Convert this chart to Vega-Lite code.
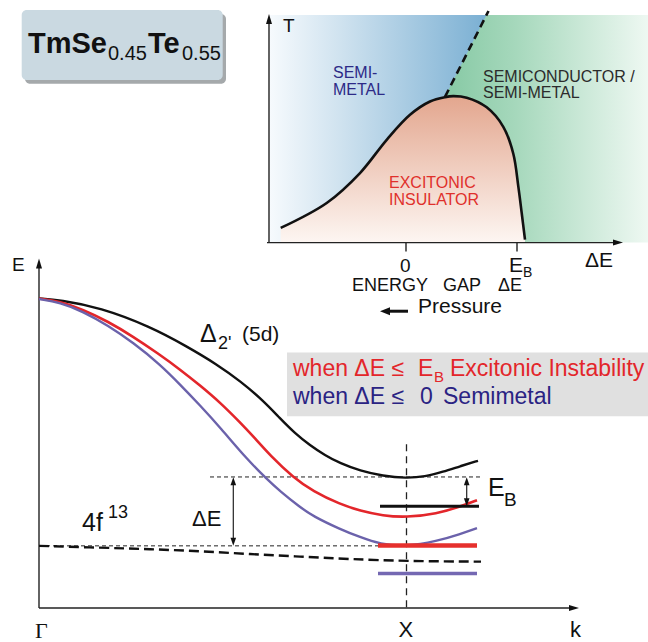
{
  "$schema": "https://vega.github.io/schema/vega-lite/v6.json",
  "width": 648,
  "height": 642,
  "autosize": {"type": "fit", "contains": "padding"},
  "padding": 0,
  "background": "white",
  "config": {"view": {"stroke": null}},
  "datasets": {
    "shadow": [{"x": 25, "x2": 226, "y": 14, "y2": 84}],
    "titleBox": [{"x": 21.7, "x2": 222.7, "y": 10, "y2": 80}],
    "blueRect": [{"x": 270, "x2": 490, "y": 15, "y2": 243}],
    "green": [
      {"y": 15, "x": 486.5, "x2": 648},
      {"y": 97, "x": 445, "x2": 648},
      {"y": 98, "x": 462, "x2": 648},
      {"y": 106.7, "x": 483, "x2": 648},
      {"y": 126.7, "x": 500, "x2": 648},
      {"y": 153.3, "x": 510, "x2": 648},
      {"y": 186.7, "x": 515.5, "x2": 648},
      {"y": 213.3, "x": 519, "x2": 648},
      {"y": 243, "x": 522.5, "x2": 648}
    ],
    "dome": [
      {"x": 280.7, "y": 228.3, "y2": 243},
      {"x": 326.7, "y": 203.3, "y2": 243},
      {"x": 360, "y": 173.3, "y2": 243},
      {"x": 386.7, "y": 140, "y2": 243},
      {"x": 410, "y": 115, "y2": 243},
      {"x": 430, "y": 101.7, "y2": 243},
      {"x": 445, "y": 97.3, "y2": 243},
      {"x": 453.3, "y": 96.3, "y2": 243},
      {"x": 466.7, "y": 97.8, "y2": 243},
      {"x": 486.7, "y": 107.5, "y2": 243},
      {"x": 503.3, "y": 127, "y2": 243},
      {"x": 513.3, "y": 154, "y2": 243},
      {"x": 518.3, "y": 186.7, "y2": 243},
      {"x": 521.7, "y": 213.3, "y2": 243},
      {"x": 525, "y": 240, "y2": 243}
    ],
    "dashBoundary": [{"x": 445, "y": 97}, {"x": 488.5, "y": 11}],
    "axes": [
      {"x": 269, "y": 19, "x2": 269, "y2": 243},
      {"x": 267, "y": 243, "x2": 618, "y2": 243},
      {"x": 406, "y": 243, "x2": 406, "y2": 252},
      {"x": 517, "y": 243, "x2": 517, "y2": 252},
      {"x": 39, "y": 264, "x2": 39, "y2": 609},
      {"x": 39, "y": 609, "x2": 574, "y2": 609}
    ],
    "pressureShaft": [{"x": 386, "y": 311.7, "x2": 408, "y2": 311.7}],
    "dotted": [
      {"x": 210, "y": 477.7, "x2": 482, "y2": 477.7},
      {"x": 39, "y": 546.7, "x2": 400, "y2": 546.7}
    ],
    "xDashed": [{"x": 406.5, "y": 445, "x2": 406.5, "y2": 609}],
    "shafts": [
      {"x": 233.3, "y": 484, "x2": 233.3, "y2": 541},
      {"x": 466.7, "y": 484, "x2": 466.7, "y2": 501}
    ],
    "grayBox": [{"x": 287, "x2": 648, "y": 353, "y2": 417}],
    "black5d": [
      {"x": 39, "y": 299}, {"x": 60, "y": 300.5}, {"x": 100, "y": 308}, {"x": 150, "y": 327},
      {"x": 187, "y": 347}, {"x": 217, "y": 365}, {"x": 240, "y": 381.5}, {"x": 263, "y": 401},
      {"x": 280, "y": 419}, {"x": 295, "y": 434}, {"x": 310, "y": 446}, {"x": 325, "y": 456},
      {"x": 340, "y": 464}, {"x": 360, "y": 471.5}, {"x": 383, "y": 476.8}, {"x": 406, "y": 479},
      {"x": 425, "y": 477.5}, {"x": 443, "y": 472.5}, {"x": 460, "y": 467}, {"x": 478, "y": 461.5}
    ],
    "red5d": [
      {"x": 39, "y": 299}, {"x": 60, "y": 302}, {"x": 83, "y": 310}, {"x": 108, "y": 322},
      {"x": 133, "y": 337}, {"x": 158, "y": 354}, {"x": 180, "y": 370}, {"x": 200, "y": 386},
      {"x": 220, "y": 403}, {"x": 240, "y": 423}, {"x": 255, "y": 439}, {"x": 270, "y": 456},
      {"x": 293, "y": 478}, {"x": 313, "y": 492}, {"x": 340, "y": 505}, {"x": 360, "y": 511.5},
      {"x": 383, "y": 516.5}, {"x": 406, "y": 518.3}, {"x": 437, "y": 514.5}, {"x": 460, "y": 507.5},
      {"x": 477, "y": 501}
    ],
    "blue5d": [
      {"x": 39, "y": 299.5}, {"x": 60, "y": 303}, {"x": 83, "y": 312}, {"x": 108, "y": 326},
      {"x": 133, "y": 343}, {"x": 160, "y": 365}, {"x": 180, "y": 385}, {"x": 200, "y": 406},
      {"x": 220, "y": 428}, {"x": 247, "y": 460}, {"x": 267, "y": 480}, {"x": 280, "y": 492},
      {"x": 300, "y": 508}, {"x": 313, "y": 517}, {"x": 340, "y": 530}, {"x": 360, "y": 538},
      {"x": 380, "y": 545}, {"x": 406, "y": 547.5}, {"x": 437, "y": 542}, {"x": 460, "y": 535},
      {"x": 477, "y": 529}
    ],
    "f4": [
      {"x": 39, "y": 546.7}, {"x": 100, "y": 548.5}, {"x": 150, "y": 550}, {"x": 200, "y": 552},
      {"x": 250, "y": 555}, {"x": 300, "y": 557.5}, {"x": 350, "y": 560}, {"x": 406, "y": 562},
      {"x": 481, "y": 562.5}
    ],
    "barBlack": [{"x": 380, "y": 507, "x2": 479, "y2": 507}],
    "barRed": [{"x": 378, "y": 546.3, "x2": 477, "y2": 546.3}],
    "barPurple": [{"x": 378, "y": 574.3, "x2": 477, "y2": 574.3}],
    "bigUp": [{"x": 269, "y": 19}, {"x": 39, "y": 264}],
    "bigRight": [{"x": 618, "y": 243}, {"x": 574, "y": 609}],
    "smallUp": [{"x": 233.3, "y": 482}, {"x": 466.7, "y": 482}],
    "smallDown": [{"x": 233.3, "y": 542.7}, {"x": 466.7, "y": 503}],
    "pressureHead": [{"x": 385, "y": 311.7}],
    "titleBig": [{"x": 28, "y": 53, "t": "TmSe"}, {"x": 148, "y": 53, "t": "Te"}],
    "titleSub": [{"x": 108, "y": 60, "t": "0.45"}, {"x": 182, "y": 60, "t": "0.55"}],
    "axisText": [
      {"x": 283, "y": 32, "t": "T"},
      {"x": 400, "y": 272, "t": "0"},
      {"x": 12, "y": 271, "t": "E"}
    ],
    "axisLine2": [
      {"x": 352, "y": 291, "t": "ENERGY"},
      {"x": 443, "y": 291, "t": "GAP"},
      {"x": 498, "y": 291, "t": "ΔE"}
    ],
    "axisText20": [
      {"x": 509, "y": 272, "t": "E"},
      {"x": 585, "y": 267, "t": "ΔE"}
    ],
    "pressureText": [{"x": 418, "y": 313, "t": "Pressure"}],
    "axisSub": [{"x": 523, "y": 277, "t": "B"}],
    "navyRegion": [{"x": 333, "y": 78, "t": "SEMI-"}, {"x": 333, "y": 95, "t": "METAL"}],
    "darkRegion": [{"x": 483, "y": 82, "t": "SEMICONDUCTOR /"}, {"x": 483, "y": 98, "t": "SEMI-METAL"}],
    "redRegion": [{"x": 389, "y": 188, "t": "EXCITONIC"}, {"x": 389, "y": 205, "t": "INSULATOR"}],
    "delta": [{"x": 200, "y": 343, "t": "Δ"}],
    "fived": [{"x": 242, "y": 342, "t": "(5d)"}],
    "bandText22": [
      {"x": 192, "y": 527, "t": "ΔE"},
      {"x": 398.5, "y": 638, "t": "X"},
      {"x": 570, "y": 638, "t": "k"}
    ],
    "fourf": [{"x": 82, "y": 532, "t": "4f"}],
    "bandSup": [{"x": 218, "y": 350, "t": "2'"}, {"x": 108, "y": 519, "t": "13"}],
    "ebBig": [{"x": 488, "y": 497, "t": "E"}],
    "ebSub": [{"x": 504, "y": 507, "t": "B"}],
    "gamma": [{"x": 35, "y": 639, "t": "Γ"}],
    "redLine": [
      {"x": 293, "y": 376.7, "t": "when ΔE ≤"},
      {"x": 418, "y": 376.7, "t": "E"},
      {"x": 450, "y": 376.7, "t": "Excitonic Instability"}
    ],
    "redSub": [{"x": 434, "y": 383, "t": "B"}],
    "navyLine": [
      {"x": 293, "y": 405, "t": "when ΔE ≤"},
      {"x": 420, "y": 405, "t": "0"},
      {"x": 443, "y": 405, "t": "Semimetal"}
    ]
  },
  "encoding": {
    "x": {"field": "x", "type": "quantitative", "scale": {"domain": [0, 648], "nice": false, "zero": false}, "axis": null},
    "y": {"field": "y", "type": "quantitative", "scale": {"domain": [0, 642], "nice": false, "zero": false, "reverse": true}, "axis": null}
  },
  "layer": [
    {"data": {"name": "shadow"}, "mark": {"type": "rect", "fill": "#8f9496", "cornerRadius": 5, "opacity": 0.8}, "encoding": {"x2": {"field": "x2"}, "y2": {"field": "y2"}}},
    {"data": {"name": "titleBox"}, "mark": {"type": "rect", "fill": "#cad9e1", "cornerRadius": 5}, "encoding": {"x2": {"field": "x2"}, "y2": {"field": "y2"}}},
    {"data": {"name": "blueRect"}, "mark": {"type": "rect", "fill": {"gradient": "linear", "x1": 0, "y1": 0, "x2": 1, "y2": 0, "stops": [{"offset": 0, "color": "#f6fafd"}, {"offset": 0.3, "color": "#d2e4f0"}, {"offset": 1, "color": "#78aed2"}]}}, "encoding": {"x2": {"field": "x2"}, "y2": {"field": "y2"}}},
    {"data": {"name": "green"}, "mark": {"type": "area", "orient": "horizontal", "interpolate": "linear", "fill": {"gradient": "linear", "x1": 0, "y1": 0, "x2": 1, "y2": 0, "stops": [{"offset": 0, "color": "#86c9a4"}, {"offset": 0.35, "color": "#a6d8bc"}, {"offset": 1, "color": "#eef8f2"}]}}, "encoding": {"x2": {"field": "x2"}}},
    {"data": {"name": "dome"}, "mark": {"type": "area", "interpolate": "catmull-rom", "fill": {"gradient": "linear", "x1": 0, "y1": 0, "x2": 0, "y2": 1, "stops": [{"offset": 0, "color": "#e3a68e"}, {"offset": 1, "color": "#fdf6f2"}]}}, "encoding": {"y2": {"field": "y2"}}},
    {"data": {"name": "dome"}, "mark": {"type": "line", "interpolate": "catmull-rom", "color": "#111111", "strokeWidth": 2.6}, "encoding": {}},
    {"data": {"name": "dashBoundary"}, "mark": {"type": "line", "color": "#111111", "strokeWidth": 2.6, "strokeDash": [8, 5]}, "encoding": {}},
    {"data": {"name": "axes"}, "mark": {"type": "rule", "color": "#222222", "strokeWidth": 1.4}, "encoding": {"x2": {"field": "x2"}, "y2": {"field": "y2"}}},
    {"data": {"name": "pressureShaft"}, "mark": {"type": "rule", "color": "#111111", "strokeWidth": 3}, "encoding": {"x2": {"field": "x2"}, "y2": {"field": "y2"}}},
    {"data": {"name": "dotted"}, "mark": {"type": "rule", "color": "#222222", "strokeWidth": 1, "strokeDash": [4, 3]}, "encoding": {"x2": {"field": "x2"}, "y2": {"field": "y2"}}},
    {"data": {"name": "xDashed"}, "mark": {"type": "rule", "color": "#222222", "strokeWidth": 1.3, "strokeDash": [7, 5]}, "encoding": {"x2": {"field": "x2"}, "y2": {"field": "y2"}}},
    {"data": {"name": "shafts"}, "mark": {"type": "rule", "color": "#222222", "strokeWidth": 1.2}, "encoding": {"x2": {"field": "x2"}, "y2": {"field": "y2"}}},
    {"data": {"name": "grayBox"}, "mark": {"type": "rect", "fill": "#e0e0e0"}, "encoding": {"x2": {"field": "x2"}, "y2": {"field": "y2"}}},
    {"data": {"name": "black5d"}, "mark": {"type": "line", "interpolate": "basis", "color": "#111111", "strokeWidth": 2.4}, "encoding": {}},
    {"data": {"name": "red5d"}, "mark": {"type": "line", "interpolate": "basis", "color": "#e3262b", "strokeWidth": 2.6}, "encoding": {}},
    {"data": {"name": "blue5d"}, "mark": {"type": "line", "interpolate": "basis", "color": "#6b62ab", "strokeWidth": 2.4}, "encoding": {}},
    {"data": {"name": "f4"}, "mark": {"type": "line", "interpolate": "basis", "color": "#111111", "strokeWidth": 2.4, "strokeDash": [10, 5]}, "encoding": {}},
    {"data": {"name": "barBlack"}, "mark": {"type": "rule", "color": "#111111", "strokeWidth": 3}, "encoding": {"x2": {"field": "x2"}, "y2": {"field": "y2"}}},
    {"data": {"name": "barRed"}, "mark": {"type": "rule", "color": "#e6302d", "strokeWidth": 4.5}, "encoding": {"x2": {"field": "x2"}, "y2": {"field": "y2"}}},
    {"data": {"name": "barPurple"}, "mark": {"type": "rule", "color": "#7468b2", "strokeWidth": 3.5}, "encoding": {"x2": {"field": "x2"}, "y2": {"field": "y2"}}},
    {"data": {"name": "bigUp"}, "mark": {"type": "point", "filled": true, "opacity": 1, "color": "#111111", "size": 100, "shape": "M0,-1L0.6,1L-0.6,1Z"}, "encoding": {}},
    {"data": {"name": "bigRight"}, "mark": {"type": "point", "filled": true, "opacity": 1, "color": "#111111", "size": 100, "shape": "M1,0L-1,0.6L-1,-0.6Z"}, "encoding": {}},
    {"data": {"name": "smallUp"}, "mark": {"type": "point", "filled": true, "opacity": 1, "color": "#111111", "size": 64, "shape": "M0,-1L0.7,1L-0.7,1Z"}, "encoding": {}},
    {"data": {"name": "smallDown"}, "mark": {"type": "point", "filled": true, "opacity": 1, "color": "#111111", "size": 64, "shape": "M0,1L0.7,-1L-0.7,-1Z"}, "encoding": {}},
    {"data": {"name": "pressureHead"}, "mark": {"type": "point", "filled": true, "opacity": 1, "color": "#111111", "size": 100, "shape": "M-1,0L1,0.8L1,-0.8Z"}, "encoding": {}},
    {"data": {"name": "titleBig"}, "mark": {"type": "text", "align": "left", "baseline": "alphabetic", "font": "Liberation Sans", "fontWeight": "bold", "fontSize": 29, "color": "#111111"}, "encoding": {"text": {"field": "t"}}},
    {"data": {"name": "titleSub"}, "mark": {"type": "text", "align": "left", "baseline": "alphabetic", "font": "Liberation Sans", "fontSize": 20, "color": "#111111"}, "encoding": {"text": {"field": "t"}}},
    {"data": {"name": "axisText"}, "mark": {"type": "text", "align": "left", "baseline": "alphabetic", "font": "Liberation Sans", "fontSize": 19, "color": "#111111"}, "encoding": {"text": {"field": "t"}}},
    {"data": {"name": "axisLine2"}, "mark": {"type": "text", "align": "left", "baseline": "alphabetic", "font": "Liberation Sans", "fontSize": 18, "color": "#111111"}, "encoding": {"text": {"field": "t"}}},
    {"data": {"name": "axisText20"}, "mark": {"type": "text", "align": "left", "baseline": "alphabetic", "font": "Liberation Sans", "fontSize": 21, "color": "#111111"}, "encoding": {"text": {"field": "t"}}},
    {"data": {"name": "pressureText"}, "mark": {"type": "text", "align": "left", "baseline": "alphabetic", "font": "Liberation Sans", "fontSize": 21, "color": "#111111"}, "encoding": {"text": {"field": "t"}}},
    {"data": {"name": "axisSub"}, "mark": {"type": "text", "align": "left", "baseline": "alphabetic", "font": "Liberation Sans", "fontSize": 14, "color": "#111111"}, "encoding": {"text": {"field": "t"}}},
    {"data": {"name": "navyRegion"}, "mark": {"type": "text", "align": "left", "baseline": "alphabetic", "font": "Liberation Sans", "fontSize": 16, "color": "#2d2a87"}, "encoding": {"text": {"field": "t"}}},
    {"data": {"name": "darkRegion"}, "mark": {"type": "text", "align": "left", "baseline": "alphabetic", "font": "Liberation Sans", "fontSize": 16, "color": "#2b2b2b"}, "encoding": {"text": {"field": "t"}}},
    {"data": {"name": "redRegion"}, "mark": {"type": "text", "align": "left", "baseline": "alphabetic", "font": "Liberation Sans", "fontSize": 16, "color": "#e0302b"}, "encoding": {"text": {"field": "t"}}},
    {"data": {"name": "delta"}, "mark": {"type": "text", "align": "left", "baseline": "alphabetic", "font": "Liberation Sans", "fontSize": 25, "color": "#111111"}, "encoding": {"text": {"field": "t"}}},
    {"data": {"name": "fived"}, "mark": {"type": "text", "align": "left", "baseline": "alphabetic", "font": "Liberation Sans", "fontSize": 21, "color": "#111111"}, "encoding": {"text": {"field": "t"}}},
    {"data": {"name": "bandText22"}, "mark": {"type": "text", "align": "left", "baseline": "alphabetic", "font": "Liberation Sans", "fontSize": 22, "color": "#111111"}, "encoding": {"text": {"field": "t"}}},
    {"data": {"name": "fourf"}, "mark": {"type": "text", "align": "left", "baseline": "alphabetic", "font": "Liberation Sans", "fontSize": 25, "color": "#111111"}, "encoding": {"text": {"field": "t"}}},
    {"data": {"name": "bandSup"}, "mark": {"type": "text", "align": "left", "baseline": "alphabetic", "font": "Liberation Sans", "fontSize": 18, "color": "#111111"}, "encoding": {"text": {"field": "t"}}},
    {"data": {"name": "ebBig"}, "mark": {"type": "text", "align": "left", "baseline": "alphabetic", "font": "Liberation Sans", "fontSize": 25, "color": "#111111"}, "encoding": {"text": {"field": "t"}}},
    {"data": {"name": "ebSub"}, "mark": {"type": "text", "align": "left", "baseline": "alphabetic", "font": "Liberation Sans", "fontSize": 19, "color": "#111111"}, "encoding": {"text": {"field": "t"}}},
    {"data": {"name": "gamma"}, "mark": {"type": "text", "align": "left", "baseline": "alphabetic", "font": "Liberation Serif", "fontSize": 22, "color": "#111111"}, "encoding": {"text": {"field": "t"}}},
    {"data": {"name": "redLine"}, "mark": {"type": "text", "align": "left", "baseline": "alphabetic", "font": "Liberation Sans", "fontSize": 23, "color": "#e3262b"}, "encoding": {"text": {"field": "t"}}},
    {"data": {"name": "redSub"}, "mark": {"type": "text", "align": "left", "baseline": "alphabetic", "font": "Liberation Sans", "fontSize": 15, "color": "#e3262b"}, "encoding": {"text": {"field": "t"}}},
    {"data": {"name": "navyLine"}, "mark": {"type": "text", "align": "left", "baseline": "alphabetic", "font": "Liberation Sans", "fontSize": 23, "color": "#2a2383"}, "encoding": {"text": {"field": "t"}}}
  ]
}
